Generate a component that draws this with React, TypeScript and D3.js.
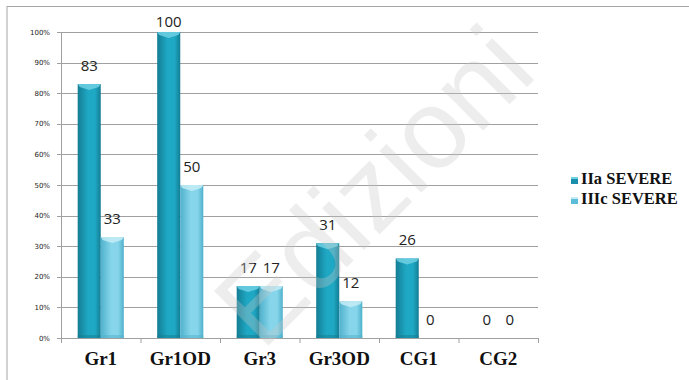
import React from "react";
import * as d3 from "d3";

// Chart data
const categories = ["Gr1", "Gr1OD", "Gr3", "Gr3OD", "CG1", "CG2"];
const seriesNames = ["IIa SEVERE", "IIIc SEVERE"];
const iiaSevere = [83, 100, 17, 31, 26, 0];
const iiicSevere = [33, 50, 17, 12, 0, 0];
const yTicks = [0, 10, 20, 30, 40, 50, 60, 70, 80, 90, 100];

const W = 689;
const H = 380;
const plot = { left: 61, right: 538, top: 32, bottom: 338 };

const seriesValues = [iiaSevere, iiicSevere];
const seriesColors = [
  { edge: "#137d94", mid: "#1fa8c4", bevel: "#6fd0e4", legend: "#1a8fab" },
  { edge: "#4fb1cc", mid: "#86d5ea", bevel: "#c4ecf6", legend: "#5bbdd8" },
];

export default function App() {
  const x = d3.scaleBand<string>().domain(categories).range([plot.left, plot.right]);
  const groupW = x.bandwidth() * 0.58;
  const xs = d3
    .scaleBand<number>()
    .domain(seriesNames.map((_, i) => i))
    .range([0, groupW]);
  const y = d3.scaleLinear().domain([0, 100]).range([plot.bottom, plot.top]);
  const bw = xs.bandwidth();

  const boundaries = [...categories.map((c) => x(c) as number), plot.right];

  return (
    <svg
      width={W}
      height={H}
      style={{ position: "absolute", left: 0, top: 0, background: "#fff" }}
    >
      <defs>
        {seriesColors.map((c, i) => (
          <linearGradient key={i} id={`bar${i}`} x1="0" x2="1" y1="0" y2="0">
            <stop offset="0" stopColor={c.edge} />
            <stop offset="0.45" stopColor={c.mid} />
            <stop offset="0.75" stopColor={c.mid} />
            <stop offset="1" stopColor={c.edge} />
          </linearGradient>
        ))}
      </defs>

      {/* frame */}
      <line x1={7} x2={7} y1={6} y2={H} stroke="#a6a6a6" strokeWidth={1} />
      <line x1={7} x2={W} y1={6.5} y2={6.5} stroke="#a6a6a6" strokeWidth={1} />

      {/* gridlines and y ticks */}
      {yTicks.map((t) => (
        <g key={t}>
          <line
            x1={plot.left - 4}
            x2={plot.right}
            y1={Math.round(y(t)) + 0.5}
            y2={Math.round(y(t)) + 0.5}
            stroke="#a0a0a0"
            strokeWidth={1}
          />
          <text
            x={50}
            y={y(t) + 2.5}
            textAnchor="end"
            fontFamily="DejaVu Sans, Verdana, sans-serif"
            fontSize={7}
            fill="#222"
          >
            {t}%
          </text>
        </g>
      ))}
      <line
        x1={plot.left + 0.5}
        x2={plot.left + 0.5}
        y1={plot.top}
        y2={plot.bottom}
        stroke="#a0a0a0"
      />
      {boundaries.map((b, i) => (
        <line
          key={i}
          x1={b + 0.5}
          x2={b + 0.5}
          y1={plot.bottom}
          y2={plot.bottom + 5}
          stroke="#a0a0a0"
        />
      ))}

      {/* bars */}
      {categories.map((c, ci) => {
        const gx = (x(c) as number) + (x.bandwidth() - groupW) / 2;
        return seriesValues.map((vals, si) => {
          const v = vals[ci];
          const bx = gx + (xs(si) as number);
          const top = y(v);
          const h = plot.bottom - top;
          const col = seriesColors[si];
          return (
            <g key={`${c}-${si}`}>
              {h > 0 && (
                <>
                  <rect x={bx} y={top} width={bw} height={h} fill={`url(#bar${si})`} />
                  {h > 8 && (
                    <polygon
                      points={`${bx},${top} ${bx + bw},${top} ${bx + bw - 2},${top + 3} ${bx + bw / 2},${top + 6} ${bx + 2},${top + 3}`}
                      fill={col.bevel}
                      opacity={0.85}
                    />
                  )}
                  <rect
                    x={bx}
                    y={plot.bottom - 3}
                    width={bw}
                    height={3}
                    fill={col.edge}
                    opacity={0.5}
                  />
                </>
              )}
              <text
                x={bx + bw / 2}
                y={Math.max(top - 13, 27)}
                textAnchor="middle"
                fontFamily="Open Sans, DejaVu Sans, sans-serif"
                fontSize={15}
                fill="#222"
              >
                {v}
              </text>
            </g>
          );
        });
      })}

      {/* category labels */}
      {categories.map((c) => (
        <text
          key={c}
          x={(x(c) as number) + x.bandwidth() / 2}
          y={365}
          textAnchor="middle"
          fontFamily="Liberation Serif, Times New Roman, serif"
          fontWeight="bold"
          fontSize={19}
          fill="#111"
        >
          {c}
        </text>
      ))}

      {/* legend */}
      {seriesNames.map((name, i) => (
        <g key={name} transform={`translate(571, ${177 + i * 20})`}>
          <rect x={0} y={0} width={7} height={7} fill={seriesColors[i].legend} />
          <rect x={0} y={0} width={7} height={2} fill={seriesColors[i].bevel} />
          <text
            x={10}
            y={7}
            fontFamily="Liberation Serif, Times New Roman, serif"
            fontWeight="bold"
            fontSize={16.5}
            fill="#111"
          >
            {name}
          </text>
        </g>
      ))}

      {/* publisher watermark */}
      <text
        transform="translate(262, 352) rotate(-45)"
        fontFamily="Liberation Sans, Arial, sans-serif"
        fontSize={112}
        fill="#c8c8c8"
        fillOpacity={0.32}
      >
        Edizioni
      </text>
    </svg>
  );
}
